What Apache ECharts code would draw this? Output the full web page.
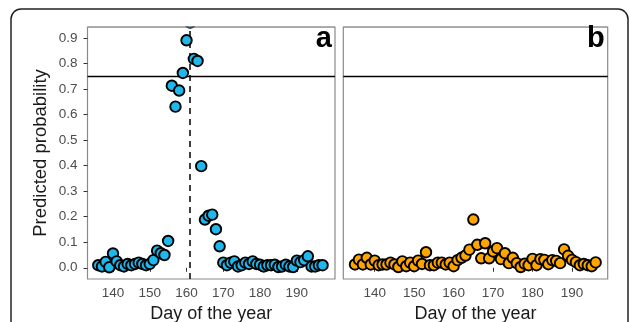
<!DOCTYPE html>
<html>
<head>
<meta charset="utf-8">
<script src="https://cdn.jsdelivr.net/npm/echarts@6/dist/echarts.min.js"></script>
<style>
  html, body { margin: 0; padding: 0; background: #ffffff; }
  #chart { width: 630px; height: 322px; }
</style>
</head>
<body>
<div id="chart"></div>
<script>
// ---- Data ----
const daysA = [136,137,138,139,140,141,142,143,144,145,146,147,148,149,150,151,152,153,154,155,
  156,157,158,159,160,161,162,163,164,165,166,167,168,169,170,171,172,173,174,175,
  176,177,178,179,180,181,182,183,184,185,186,187,188,189,190,191,192,193,194,195,196,197];
const probA = [0.010,0.005,0.023,0.002,0.056,0.025,0.010,0.005,0.015,0.010,0.015,0.020,0.015,0.010,0.015,0.030,0.067,0.057,0.050,0.105,
  0.713,0.631,0.694,0.763,0.891,0.960,0.818,0.810,0.398,0.189,0.204,0.208,0.151,0.084,0.020,0.010,0.020,0.025,0.005,0.010,
  0.020,0.015,0.025,0.015,0.012,0.005,0.010,0.010,0.012,0.003,0.005,0.012,0.005,0.003,0.028,0.022,0.030,0.045,0.005,0.005,0.010,0.010];

const daysB = [135,136,137,138,139,140,141,142,143,144,145,146,147,148,149,150,151,152,153,154,
  155,156,157,158,159,160,161,162,163,164,165,166,167,168,169,170,171,172,173,174,
  175,176,177,178,179,180,181,182,183,184,185,186,187,188,189,190,191,192,193,194,195,196];
const probB = [0.013,0.032,0.013,0.039,0.013,0.028,0.010,0.013,0.013,0.020,0.013,0.003,0.025,0.006,0.020,0.006,0.028,0.015,0.061,0.010,
  0.010,0.020,0.020,0.013,0.020,0.006,0.030,0.039,0.048,0.071,0.189,0.090,0.037,0.096,0.037,0.064,0.077,0.034,0.057,0.018,
  0.039,0.018,0.003,0.016,0.010,0.035,0.010,0.034,0.031,0.014,0.030,0.027,0.018,0.072,0.047,0.031,0.022,0.010,0.015,0.010,0.006,0.021];

const threshold = 0.75;     // horizontal reference line
const peakDay = 161;        // vertical dashed line (panel a)
const xTicks = [140,150,160,170,180,190];
const yTicks = [0.0,0.1,0.2,0.3,0.4,0.5,0.6,0.7,0.8,0.9];
const panelLabels = ['a','b'];
const xTitle = 'Day of the year';
const yTitle = 'Predicted probability';

// ---- Chart ----
const chart = echarts.init(document.getElementById('chart'), null, { renderer: 'canvas' });

const FONT = '"Liberation Sans", Arial, sans-serif';
const gridTop = 27, gridH = 252;
const gridA = { left: 87.5, top: gridTop, width: 247.5, height: gridH };
const gridB = { left: 343.3, top: gridTop, width: 264.4, height: gridH };

function xAxisCfg(gi, min, max) {
  return {
    type: 'value', gridIndex: gi, min: min, max: max,
    splitLine: { show: false },
    axisLine: { show: false },
    axisTick: { show: true, customValues: xTicks, length: 4, lineStyle: { color: '#333', width: 1 } },
    axisLabel: { show: true, customValues: xTicks, margin: 7, color: '#4d4d4d', fontSize: 13.5, fontFamily: FONT },
    name: xTitle, nameLocation: 'middle', nameGap: 25,
    nameTextStyle: { color: '#1a1a1a', fontSize: 18, fontFamily: FONT }
  };
}
function yAxisCfg(gi, showLabels) {
  return {
    type: 'value', gridIndex: gi, min: -0.044, max: 0.943,
    splitLine: { show: false },
    axisLine: { show: false },
    axisTick: { show: showLabels, customValues: yTicks, length: 4, lineStyle: { color: '#333', width: 1 } },
    axisLabel: { show: showLabels, customValues: yTicks, margin: 10, color: '#4d4d4d', fontSize: 13.5, fontFamily: FONT,
      formatter: v => Number(v).toFixed(1) },
    name: showLabels ? yTitle : '', nameLocation: 'middle', nameGap: 37,
    nameTextStyle: { color: '#1a1a1a', fontSize: 18.5, fontFamily: FONT }
  };
}

const pointsA = daysA.map((d, i) => [d, probA[i]]);
const pointsB = daysB.map((d, i) => [d, probB[i]]);

const lineStyleSolid = { color: '#000', width: 1.3, type: 'solid' };
const gridBase = { show: true, borderColor: '#8a8a8a', borderWidth: 1.2, backgroundColor: 'transparent',
  containLabel: false, outerBoundsMode: 'none' };

const option = {
  backgroundColor: '#ffffff',
  animation: false,
  grid: [
    Object.assign({}, gridBase, gridA),
    Object.assign({}, gridBase, gridB)
  ],
  xAxis: [ xAxisCfg(0, 133.07, 200.38), xAxisCfg(1, 132.04, 199.05) ],
  yAxis: [ yAxisCfg(0, true), yAxisCfg(1, false) ],
  series: [
    {
      type: 'scatter', xAxisIndex: 0, yAxisIndex: 0, data: pointsA, clip: false,
      symbol: 'circle', symbolSize: 10.5,
      itemStyle: { color: '#1EB8EC', borderColor: '#000', borderWidth: 1.9, opacity: 1 },
      z: 3,
      markLine: {
        silent: true, symbol: ['none','none'], label: { show: false }, z: 2,
        data: [
          { yAxis: threshold, lineStyle: lineStyleSolid },
          { xAxis: peakDay, lineStyle: { color: '#000', width: 1.5, type: [6, 5] } }
        ]
      }
    },
    {
      type: 'scatter', xAxisIndex: 1, yAxisIndex: 1, data: pointsB, clip: false,
      symbol: 'circle', symbolSize: 10.5,
      itemStyle: { color: '#FFA500', borderColor: '#000', borderWidth: 1.9, opacity: 1 },
      z: 3,
      markLine: {
        silent: true, symbol: ['none','none'], label: { show: false }, z: 2,
        data: [ { yAxis: threshold, lineStyle: lineStyleSolid } ]
      }
    }
  ],
  graphic: [
    // white band above panels: hides any marker part beyond the panel top
    { type: 'rect', z: 50, silent: true,
      shape: { x: 12, y: 10.5, width: 615, height: gridTop - 11.2 },
      style: { fill: '#ffffff' } },
    // redraw panel top borders above the cover
    { type: 'line', z: 51, silent: true,
      shape: { x1: gridA.left, y1: gridTop, x2: gridA.left + gridA.width, y2: gridTop },
      style: { stroke: '#8a8a8a', lineWidth: 1.2 } },
    { type: 'line', z: 51, silent: true,
      shape: { x1: gridB.left, y1: gridTop, x2: gridB.left + gridB.width, y2: gridTop },
      style: { stroke: '#8a8a8a', lineWidth: 1.2 } },
    // outer rounded frame
    { type: 'rect', z: 52, silent: true,
      shape: { x: 11, y: 9, width: 617, height: 360, r: 10 },
      style: { fill: 'none', stroke: '#222', lineWidth: 1.5 } },
    // panel labels
    { type: 'text', z: 53, silent: true, x: gridA.left + gridA.width - 3, y: 38.5,
      style: { text: panelLabels[0], fill: '#000', font: 'bold 29px ' + FONT, textAlign: 'right', textVerticalAlign: 'middle' } },
    { type: 'text', z: 53, silent: true, x: gridB.left + gridB.width - 3, y: 38.5,
      style: { text: panelLabels[1], fill: '#000', font: 'bold 29px ' + FONT, textAlign: 'right', textVerticalAlign: 'middle' } }
  ]
};

chart.setOption(option);
</script>
</body>
</html>
